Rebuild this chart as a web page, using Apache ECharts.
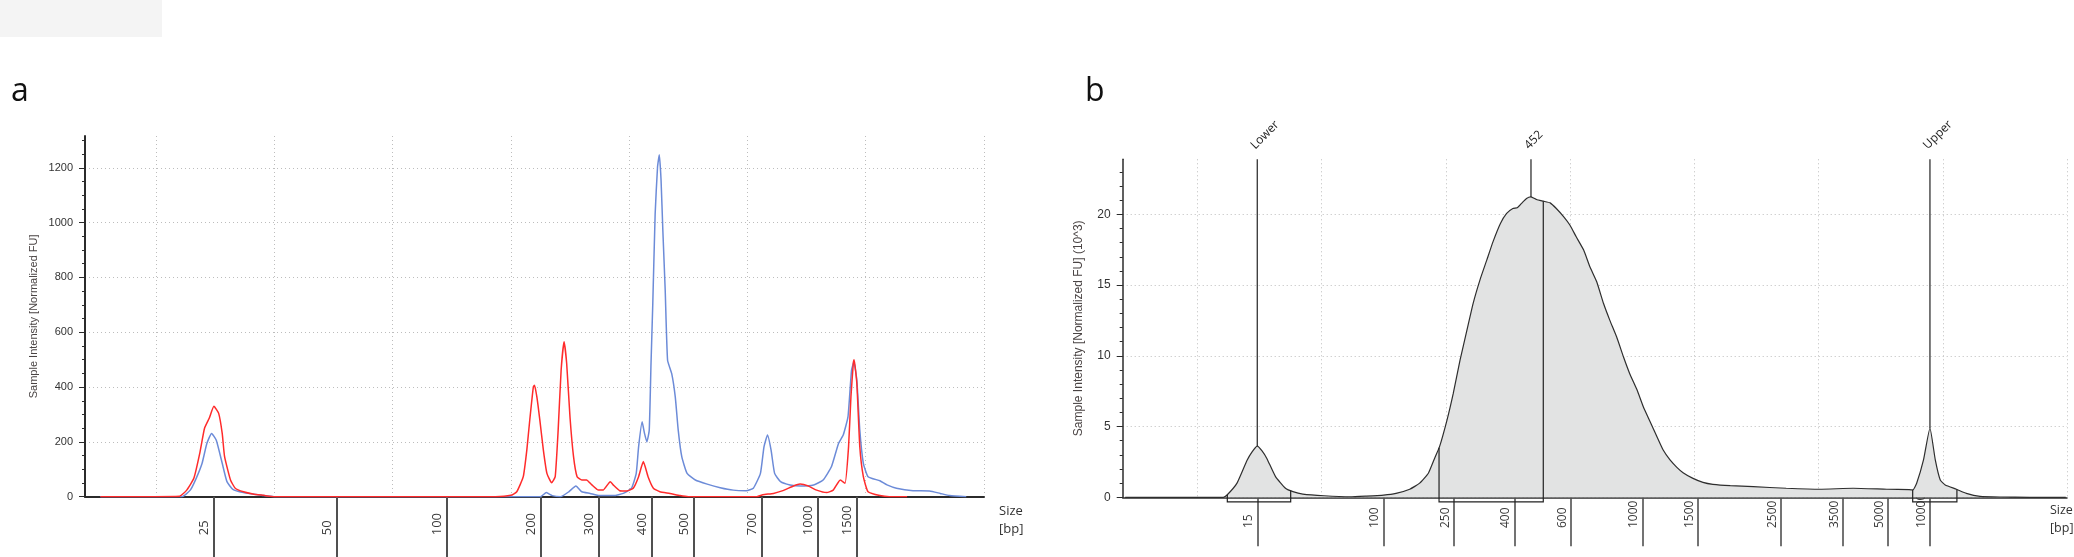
<!DOCTYPE html>
<html>
<head>
<meta charset="utf-8">
<script src="https://cdn.jsdelivr.net/npm/echarts@6/dist/echarts.min.js"></script>
<style>html,body{margin:0;padding:0;background:#fff;}#c{width:2074px;height:557px;}</style>
</head>
<body>
<div id="c"></div>
<script>
// ---------- Panel a data (x = migration time units, y = FU) ----------
const aBlueTime = [45.3, 52.2, 52.9, 53.4, 53.9, 54.3, 54.7, 55.1, 55.6, 56.0,
  56.5, 57.4, 58.2, 59.1, 60.0, 70.0, 82.5, 83.0, 83.5, 84.2,
  84.9, 85.5, 86.0, 86.7, 87.5, 88.7, 89.5, 90.2, 90.6, 90.8,
  91.1, 91.3, 91.5, 91.7, 91.85, 92.0, 92.2, 92.4, 92.55, 92.7,
  92.85, 93.05, 93.25, 93.6, 93.9, 94.15, 94.45, 94.9, 95.6, 96.6,
  97.7, 98.8, 99.9, 100.5, 101.1, 101.4, 101.7, 102.0, 102.3, 102.8,
  103.6, 104.5, 105.6, 106.4, 107.1, 107.7, 108.1, 108.5, 108.8, 109.0,
  109.25, 109.5, 109.8, 110.2, 111.2, 111.8, 112.6, 114.0, 115.4, 116.3,
  117.1, 118.5];
const aBlueValue = [0, 0, 24, 67, 122, 194, 231, 206, 122, 55,
  27, 15, 10, 4, 0, 0, 0, 15, 4, 0,
  18, 39, 18, 12, 4, 4, 12, 31, 85, 182,
  273, 231, 200, 243, 486, 705, 1032, 1202, 1248, 1154,
  971, 753, 498, 449, 364, 243, 146, 85, 61, 46,
  33, 24, 22, 31, 85, 182, 225, 170, 85, 55,
  43, 39, 43, 61, 109, 194, 225, 291, 461, 492,
  425, 243, 122, 73, 58, 43, 31, 22, 21, 12,
  4, 0];
const aRedTime = [45.3, 52.0, 52.6, 53.2, 53.7, 54.1, 54.5, 54.9, 55.3, 55.6,
  55.8, 56.3, 56.7, 57.4, 58.2, 59.1, 60.0, 78.7, 80.0, 80.5,
  81.05, 81.35, 81.6, 81.9, 82.0, 82.2, 82.45, 82.75, 83.05, 83.45,
  83.75, 84.0, 84.25, 84.5, 84.72, 85.0, 85.3, 85.6, 86.0, 86.4,
  86.85, 87.4, 87.8, 88.4, 88.65, 89.2, 89.8, 90.35, 90.8, 91.2,
  91.6, 92.05, 92.6, 93.45, 94.3, 95.0, 100.8, 101.3, 102.2, 103.0,
  103.9, 104.45, 105.15, 105.85, 106.7, 107.25, 107.85, 108.25, 108.55, 108.75,
  108.95, 109.02, 109.25, 109.5, 109.8, 110.2, 111.2, 112.0, 113.5];
const aRedValue = [0, 2, 24, 67, 158, 249, 286, 330, 304, 231,
  146, 61, 31, 18, 10, 5, 0, 0, 5, 18,
  73, 170, 280, 400, 407, 364, 280, 170, 85, 51,
  73, 243, 461, 565, 486, 291, 146, 73, 61, 61,
  43, 24, 24, 55, 43, 22, 21, 31, 73, 128,
  73, 31, 18, 12, 4, 0, 0, 7, 12, 22,
  39, 46, 39, 24, 15, 24, 61, 49, 182, 364,
  486, 500, 413, 182, 73, 18, 4, 0, 0];
const aLadderTime = [54.89, 65.30, 74.60, 82.57, 87.43, 91.89, 95.45, 101.21, 105.92, 109.24];
const aLadderLabels = ['25', '50', '100', '200', '300', '400', '500', '700', '1000', '1500'];
const aYTicks = [0, 200, 400, 600, 800, 1000, 1200];
const aYMinorTicks = [0, 50, 100, 150, 200, 250, 300, 350, 400, 450, 500, 550, 600, 650, 700, 750, 800, 850, 900, 950, 1000, 1050, 1100, 1150, 1200, 1250, 1300];
const aYMax = 1316;

// ---------- Panel b data ----------
const bTime = [44.2, 52.1, 52.4, 53.2, 54.0, 54.4, 54.83, 55.2, 55.6, 56.3,
  57.1, 57.7, 58.5, 60.2, 62.3, 63.6, 65.0, 66.0, 67.1, 67.9,
  68.6, 69.1, 69.5, 70.1, 70.6, 71.15, 71.7, 72.2, 72.75, 73.3,
  73.8, 74.4, 74.9, 75.4, 75.75, 76.1, 76.5, 76.86, 77.3, 77.85,
  78.4, 78.9, 79.5, 80.0, 80.5, 81.1, 81.6, 82.15, 82.7, 83.2,
  83.75, 84.3, 84.8, 85.4, 85.9, 86.45, 87.0, 87.5, 88.05, 88.6,
  89.1, 89.9, 90.7, 91.5, 92.9, 94.75, 97.4, 100.1, 102.8, 105.5,
  107.3, 107.6, 107.9, 108.45, 108.97, 109.4, 109.8, 110.2, 111.1, 111.9,
  113.0, 114.6, 117.0, 119.9];
const bValue = [0, 0, 0.16, 1.0, 2.6, 3.2, 3.62, 3.3, 2.75, 1.46,
  0.64, 0.4, 0.23, 0.11, 0.04, 0.09, 0.16, 0.28, 0.57, 1.0,
  1.7, 2.75, 3.58, 5.46, 7.33, 9.7, 11.8, 13.7, 15.36, 16.77,
  18.06, 19.36, 20.07, 20.42, 20.47, 20.78, 21.13, 21.24, 21.06, 20.94,
  20.82, 20.42, 19.83, 19.24, 18.42, 17.48, 16.3, 15.24, 13.7, 12.53,
  11.35, 9.94, 8.76, 7.58, 6.4, 5.34, 4.28, 3.34, 2.64, 2.12,
  1.74, 1.34, 1.06, 0.92, 0.82, 0.75, 0.64, 0.57, 0.64, 0.57,
  0.54, 0.52, 0.99, 2.64, 4.9, 2.64, 1.22, 0.87, 0.57, 0.28,
  0.07, 0.02, 0, 0];
const bLadderTime = [54.83, 64.97, 70.66, 75.52, 80.06, 85.83, 90.28, 96.98, 101.95, 105.57, 108.97];
const bLadderLabels = ['15', '100', '250', '400', '600', '1000', '1500', '2500', '3500', '5000', '10000'];
const bMarkerTime = [54.83, 76.86, 108.97];
const bMarkerLabels = ['Lower', '452', 'Upper'];
const bRegionStart = [52.42, 69.46, 107.58];
const bRegionEnd = [57.52, 77.85, 111.14];
const bYTicks = [0, 5, 10, 15, 20];
const bYMinorTicks = [0,1,2,3,4,5,6,7,8,9,10,11,12,13,14,15,16,17,18,19,20,21,22,23];
const bYMax = 23.9;

// shared time axis
const timeMin = 44, timeMax = 120;
const timeGrid = [50, 60, 70, 80, 90, 100, 110, 120];

// ---------- helpers ----------
const zip = (xs, ys) => xs.map((x, i) => [x, ys[i]]);
function interp(xs, ys, t) {
  for (let i = 1; i < xs.length; i++) {
    if (t <= xs[i]) {
      const f = (t - xs[i - 1]) / (xs[i] - xs[i - 1]);
      return ys[i - 1] + f * (ys[i] - ys[i - 1]);
    }
  }
  return ys[ys.length - 1];
}
function labelFor(times, labels, v) {
  let best = 0, d = Infinity;
  times.forEach((t, i) => { const dd = Math.abs(t - v); if (dd < d) { d = dd; best = i; } });
  return labels[best];
}

const gridDot = { color: '#bdbdbd', width: 1, type: [1, 3] };
const SANS = '"Liberation Sans", Arial, sans-serif';
const SEGOE = '"Open Sans", "Noto Sans", sans-serif';

function mainX(gridIndex, axisWidth) {
  return {
    type: 'value', gridIndex, min: timeMin, max: timeMax, position: 'bottom',
    axisLine: { show: true, onZero: false, lineStyle: { color: '#2b2b2b', width: axisWidth } },
    axisTick: { show: false, customValues: timeGrid },
    axisLabel: { show: false },
    splitLine: { show: true, lineStyle: gridDot }
  };
}
function ladderX(gridIndex, times, labels, offset, len, width, margin, fs, pad) {
  return {
    type: 'value', gridIndex, min: timeMin, max: timeMax, position: 'bottom', offset,
    axisLine: { show: false },
    axisTick: { show: true, customValues: times, length: len, lineStyle: { color: '#505050', width } },
    axisLabel: {
      show: true, customValues: times, rotate: 90, align: 'left', verticalAlign: 'bottom',
      margin, fontSize: fs, fontFamily: SEGOE, color: '#3a3a3a', padding: [0, 0, pad, 0],
      formatter: v => labelFor(times, labels, v)
    },
    splitLine: { show: false }
  };
}
function mainY(gridIndex, max, ticks, name, nameGap, fs, nfs, axisWidth) {
  return {
    type: 'value', gridIndex, min: 0, max, position: 'left',
    name, nameLocation: 'middle', nameRotate: 90, nameGap,
    nameTextStyle: { fontSize: nfs, fontFamily: SANS, color: '#4a4444' },
    axisLine: { show: true, lineStyle: { color: '#2b2b2b', width: axisWidth } },
    axisTick: { show: true, customValues: ticks, length: 6, lineStyle: { color: '#2b2b2b', width: 1 } },
    axisLabel: { show: true, customValues: ticks, margin: 12, fontSize: fs, fontFamily: SANS, color: '#333',
      formatter: v => String(v) },
    splitLine: { show: true, lineStyle: gridDot }
  };
}
function minorY(gridIndex, max, ticks) {
  return {
    type: 'value', gridIndex, min: 0, max, position: 'left',
    axisLine: { show: false },
    axisTick: { show: true, customValues: ticks, length: 3, lineStyle: { color: '#2b2b2b', width: 1 } },
    axisLabel: { show: false },
    splitLine: { show: false }
  };
}

const regionData = bRegionStart.map((s, i) => [s, bRegionEnd[i], i]);
const markerData = bMarkerTime.map((t, i) => [t, i]);
const regionBoxDepth = -0.33;

const option = {
  animation: false,
  backgroundColor: '#ffffff',
  grid: [
    { left: 85, right: 1090, top: 136, bottom: 60.3 },
    { left: 1122.7, right: 7, top: 159.3, bottom: 59.7 }
  ],
  xAxis: [
    mainX(0, 2),
    ladderX(0, aLadderTime, aLadderLabels, 10.6, 64, 2, 28, 13, 3),
    mainX(1, 1.5),
    ladderX(1, bLadderTime, bLadderLabels, 7.7, 49, 1.6, 23, 12, 2.5)
  ],
  yAxis: [
    mainY(0, aYMax, aYTicks, 'Sample Intensity [Normalized FU]', 46, 11, 11, 2),
    minorY(0, aYMax, aYMinorTicks),
    mainY(1, bYMax, bYTicks, 'Sample Intensity [Normalized FU] (10^3)', 38, 12, 12, 1.5),
    minorY(1, bYMax, bYMinorTicks)
  ],
  series: [
    {
      type: 'line', xAxisIndex: 0, yAxisIndex: 0, data: zip(aBlueTime, aBlueValue),
      showSymbol: false, smooth: 0.15, lineStyle: { color: '#6c8bd8', width: 1.5 }, z: 3
    },
    {
      type: 'line', xAxisIndex: 0, yAxisIndex: 0, data: zip(aRedTime, aRedValue),
      showSymbol: false, smooth: 0.15, lineStyle: { color: '#ff2b2b', width: 1.5 }, z: 4
    },
    {
      type: 'line', xAxisIndex: 2, yAxisIndex: 2, data: zip(bTime, bValue),
      showSymbol: false, smooth: 0.15, lineStyle: { color: '#2e2e2e', width: 1.2 },
      areaStyle: { color: '#e2e3e3', opacity: 1 }, z: 3
    },
    {
      type: 'custom', xAxisIndex: 2, yAxisIndex: 2, data: regionData, clip: false, z: 5,
      encode: { x: [0, 1] },
      renderItem: (params, api) => {
        const t1 = api.value(0), t2 = api.value(1);
        const pts = [
          api.coord([t1, interp(bTime, bValue, t1)]),
          api.coord([t1, regionBoxDepth]),
          api.coord([t2, regionBoxDepth]),
          api.coord([t2, interp(bTime, bValue, t2)])
        ];
        return { type: 'polyline', shape: { points: pts }, style: { stroke: '#222', lineWidth: 1.2, fill: null } };
      }
    },
    {
      type: 'custom', xAxisIndex: 2, yAxisIndex: 2, data: markerData, clip: false, z: 6,
      encode: { x: 0 },
      renderItem: (params, api) => {
        const t = api.value(0), i = api.value(1);
        const top = api.coord([t, bYMax]);
        const bot = api.coord([t, interp(bTime, bValue, t)]);
        return {
          type: 'group',
          children: [
            { type: 'line', shape: { x1: top[0], y1: top[1], x2: bot[0], y2: bot[1] }, style: { stroke: '#222', lineWidth: 1.2 } },
            { type: 'text', x: top[0] - 4.5, y: top[1] - 12, rotation: Math.PI / 4,
              style: { text: bMarkerLabels[i], fill: '#222', font: '12px "Open Sans", sans-serif', align: 'left', verticalAlign: 'middle' } }
          ]
        };
      }
    }
  ],
  graphic: [
    { type: 'rect', shape: { x: 0, y: 0, width: 162, height: 37 }, style: { fill: '#f4f4f4' }, silent: true },
    { type: 'text', x: 11, y: 92, style: { text: 'a', font: '32px "Open Sans", sans-serif', fill: '#111', verticalAlign: 'middle' } },
    { type: 'text', x: 1085, y: 92, style: { text: 'b', font: '32px "Open Sans", sans-serif', fill: '#111', verticalAlign: 'middle' } },
    { type: 'text', x: 999, y: 511, style: { text: 'Size', font: '13px "Open Sans", sans-serif', fill: '#333', verticalAlign: 'middle' } },
    { type: 'text', x: 999, y: 529, style: { text: '[bp]', font: '13px "Open Sans", sans-serif', fill: '#333', verticalAlign: 'middle' } },
    { type: 'text', x: 2050, y: 510, style: { text: 'Size', font: '12.5px "Open Sans", sans-serif', fill: '#333', verticalAlign: 'middle' } },
    { type: 'text', x: 2050, y: 528, style: { text: '[bp]', font: '12.5px "Open Sans", sans-serif', fill: '#333', verticalAlign: 'middle' } }
  ]
};

const chart = echarts.init(document.getElementById('c'), null, { renderer: 'canvas' });
chart.setOption(option);
</script>
</body>
</html>
